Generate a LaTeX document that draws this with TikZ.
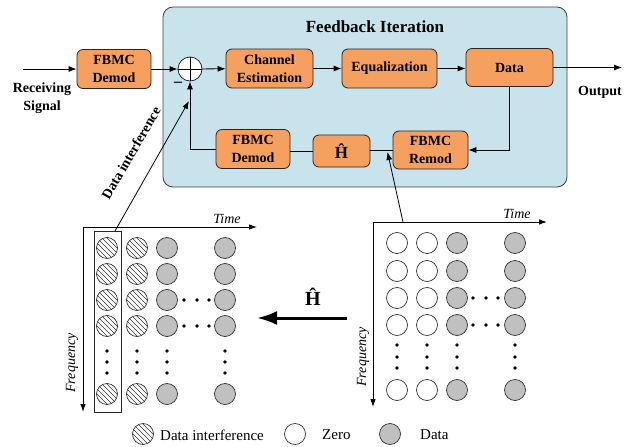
\documentclass[tikz,border=0pt]{standalone}
\usepackage{fontspec}
\setmainfont{Liberation Serif}
\usetikzlibrary{arrows.meta}
\definecolor{boxor}{RGB}{245,160,95}
\definecolor{bgblue}{RGB}{200,227,236}
\definecolor{dgray}{RGB}{192,192,192}
\begin{document}
\begin{tikzpicture}[x=1pt,y=-1pt,
  box/.style={draw=black!85, fill=boxor, rounded corners=6pt, line width=0.8pt,
    font=\fontsize{14}{17.5}\selectfont\bfseries, align=center, inner sep=0pt},
  conn/.style={line width=0.8pt, -{Latex[length=8pt,width=6pt]}},
  ln/.style={line width=0.8pt},
  lab/.style={font=\fontsize{14}{17.5}\selectfont\bfseries, align=center, inner sep=0pt},
  axis/.style={line width=0.9pt, {Latex[length=8pt,width=5.5pt]}-{Latex[length=8pt,width=5.5pt]}},
  ax/.style={font=\fontsize{14}{15}\selectfont\itshape, inner sep=0pt},
  leg/.style={font=\fontsize{15}{16}\selectfont, inner sep=0pt, anchor=west},
  hatchc/.pic={\begin{scope}\clip (0,0) circle (10.5pt);
      \foreach \k in {-3,...,3} \draw[line width=0.5pt, black!80] (\k*5-12,-12) -- ++(24,24);
    \end{scope}
    \draw[line width=0.7pt, black!80] (0,0) circle (10.5pt);},
  zeroc/.pic={\draw[line width=0.7pt, black!80, fill=white] (0,0) circle (10.5pt);},
  datac/.pic={\draw[line width=0.7pt, black!80, fill=dgray] (0,0) circle (10.5pt);},
  bigdot/.style={fill=black, circle, inner sep=0pt, minimum size=3.6pt}
]
\useasboundingbox (0,0) rectangle (624,447);

% background feedback box
\draw[fill=bgblue, draw=black!75, line width=0.8pt, rounded corners=10pt] (163,7) rectangle (567,187);
\node[font=\fontsize{17}{18}\selectfont\bfseries, inner sep=0pt] (title) at (375,27) {Feedback Iteration};

% blocks
\node[box, minimum width=74pt, minimum height=39pt] (dem1) at (114,69) {FBMC\\Demod};
\node[draw=black!85, fill=white, circle, line width=0.8pt, minimum size=24pt, inner sep=0pt] (sum) at (190,69) {};
\draw[ln] (sum.north) -- (sum.south) (sum.west) -- (sum.east);
\node[box, minimum width=87pt, minimum height=39pt] (ce) at (269.5,68.5) {Channel\\Estimation};
\node[box, minimum width=95pt, minimum height=39pt] (eq) at (389.5,68.5) {Equalization};
\node[box, minimum width=87pt, minimum height=38pt] (data) at (509.5,67.5) {Data};
\node[box, minimum width=75pt, minimum height=38pt] (remod) at (430.5,150) {FBMC\\Remod};
\node[box, minimum width=57pt, minimum height=32pt, font=\fontsize{17}{18}\selectfont\bfseries] (hhat) at (341.5,151) {Ĥ};
\node[box, minimum width=74pt, minimum height=39pt] (dem2) at (253,149) {FBMC\\Demod};
\node[font=\fontsize{16}{16}\selectfont\bfseries, inner sep=0pt] (minus) at (178,84) {–};

% labels
\node[lab] (recv) at (42,98) {Receiving\\Signal};
\node[lab] (outl) at (600,92) {Output};

% connectors
\coordinate (in) at (23,69);
\coordinate (out) at (622,67.5);
\draw[conn] (in) -- (dem1.west);
\draw[conn] (dem1) -- (sum);
\draw[conn] (sum) -- (ce);
\draw[conn] (ce) -- (eq);
\draw[conn] (eq) -- (data.west |- eq.east);
\draw[conn] (data.east) -- (out);
\draw[conn] (data.south) |- (remod.east);
\draw[ln] (remod.west) -- (remod.west -| hhat.east);
\draw[ln] (hhat.west) -- (hhat.west -| dem2.east);
\draw[conn] (dem2.west) -| (sum.south);

% left grid
\coordinate (lo) at (83,227);
\draw[axis] (83,412) |- (257,227);
\node[ax, anchor=south] (ltime) at (227,224) {Time};
\node[ax, rotate=90] (lfreq) at (72,363) {Frequency};
\node[draw=black!85, line width=0.7pt, minimum width=27pt, minimum height=181pt, inner sep=0pt] (dibox) at (107.5,321.5) {};
\foreach \y in {248,274,300,326,394} {
  \pic at (107,\y) {hatchc};
  \pic at (137,\y) {hatchc};
  \pic at (167,\y) {datac};
  \pic at (225,\y) {datac};
}
\foreach \x in {107,137,167,225} \foreach \y in {351,362,373} \node[bigdot] at (\x,\y) {};
\foreach \y in {300,326} \foreach \x in {184,197,209} \node[bigdot] at (\x,\y) {};

% right grid
\draw[axis] (373,407) |- (547,222);
\node[ax, anchor=south] (rtime) at (517,219) {Time};
\node[ax, rotate=90] (rfreq) at (363,357) {Frequency};
\foreach \y in {243,271,298,325,390} {
  \pic at (397,\y) {zeroc};
  \pic at (427,\y) {zeroc};
  \pic at (457,\y) {datac};
  \pic at (515,\y) {datac};
}
\foreach \x in {397,427,457,515} \foreach \y in {345,357,368} \node[bigdot] at (\x,\y) {};
\foreach \y in {298,325} \foreach \x in {473,486,498} \node[bigdot] at (\x,\y) {};

% data interference arrow
\coordinate (distart) at (115,231);
\coordinate (diend) at (189,101);
\draw[conn] (distart) -- (diend);
\node[lab, rotate=60] (dilab) at (131,153) {Data interference};

% arrow to remod
\coordinate (rstart) at (403,222);
\coordinate (rend) at (387.5,152);
\draw[conn] (rstart) -- (rend);

% big H arrow
\coordinate (hs) at (347,318);
\coordinate (he) at (257,318);
\draw[line width=3pt, -{Latex[length=20pt,width=14pt]}] (hs) -- (he);
\node[font=\fontsize{20}{20}\selectfont\bfseries, inner sep=0pt] (hlab) at (313,297) {Ĥ};

% legend
\pic at (143,434) {hatchc};
\node[leg] (l1) at (160,435) {Data interference};
\pic at (295,434) {zeroc};
\node[leg] (l2) at (322,435) {Zero};
\pic at (390,434) {datac};
\node[leg] (l3) at (420,435) {Data};
\end{tikzpicture}
\end{document}
